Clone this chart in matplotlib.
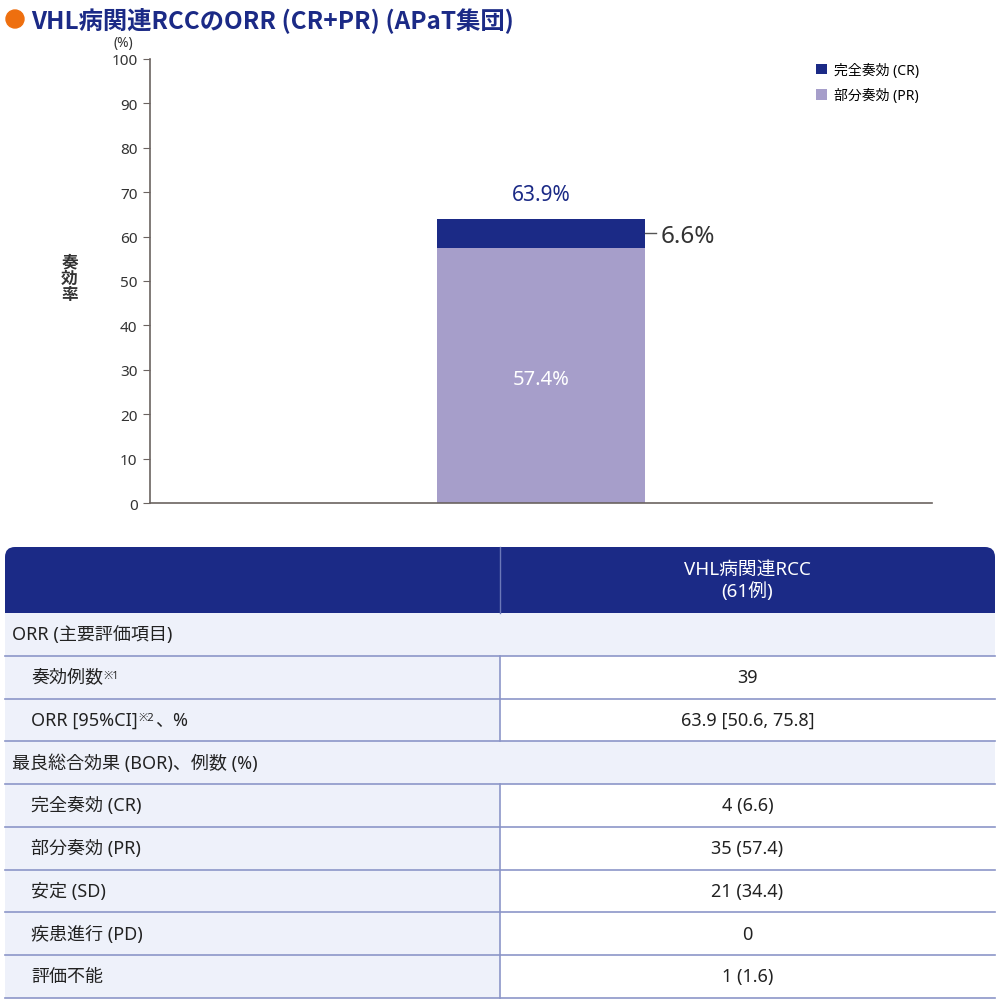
import matplotlib
matplotlib.use('Agg')
import matplotlib.pyplot as plt
from matplotlib.patches import Rectangle, FancyBboxPatch, Circle

plt.rcParams['font.family'] = ['Noto Sans', 'Noto Sans CJK JP', 'DejaVu Sans']

# data
categories = ['VHL病関連RCC']
pr_values = [57.4]
cr_values = [6.6]
orr_values = [63.9]
yticks = list(range(0, 101, 10))

header_label = 'VHL病関連RCC\n(61例)'
row_labels = ['ORR (主要評価項目)', '奏効例数', 'ORR [95%CI]', '最良総合効果 (BOR)、例数 (%)',
              '完全奏効 (CR)', '部分奏効 (PR)', '安定 (SD)', '疾患進行 (PD)', '評価不能']
row_values = ['', '39', '63.9 [50.6, 75.8]', '', '4 (6.6)', '35 (57.4)', '21 (34.4)', '0', '1 (1.6)']
row_kinds = ['section', 'item', 'item', 'section', 'item', 'item', 'item', 'item', 'item']
row_notes = ['', '※1', '※2', '', '', '', '', '', '']

NAVY = '#1b2a86'
LAVENDER = '#a69eca'
LIGHT = '#eef1fa'
LINE = '#8c96c8'
TXT = '#222222'

fig = plt.figure(figsize=(10, 10.03), dpi=100)

# background layer for title and table, pixel coordinates
bg = fig.add_axes([0, 0, 1, 1])
bg.set_xlim(0, 1000)
bg.set_ylim(1003, 0)
bg.axis('off')

bg.add_patch(Circle((15, 20), 9, color='#ee6f0f'))
bg.text(31, 20, 'VHL病関連RCCのORR (CR+PR) (APaT集団)', fontsize=17.5, fontweight='bold',
        color=NAVY, va='center', ha='left', family=['Noto Sans CJK JP', 'DejaVu Sans'])

# table
tx0, tx1, tdiv = 5, 995, 500
head_top, head_h, row_h = 548, 66, 42.75
bg.add_patch(FancyBboxPatch((tx0, head_top), tx1 - tx0, head_h,
                            boxstyle='round,pad=0,rounding_size=10', color=NAVY, lw=0))
bg.add_patch(Rectangle((tx0, head_top + 20), tx1 - tx0, head_h - 20, color=NAVY, lw=0))
bg.plot([tdiv, tdiv], [head_top, head_top + head_h], color='#6c78b8', lw=1)
bg.text((tdiv + tx1) / 2, head_top + head_h / 2, header_label, color='white', fontsize=13.5,
        ha='center', va='center', linespacing=1.25)

y = head_top + head_h
for label, value, kind, note in zip(row_labels, row_values, row_kinds, row_notes):
    if kind == 'section':
        bg.add_patch(Rectangle((tx0, y), tx1 - tx0, row_h, color=LIGHT, lw=0))
        bg.text(12, y + row_h / 2, label, fontsize=13, color=TXT, va='center', ha='left')
    else:
        bg.add_patch(Rectangle((tx0, y), tdiv - tx0, row_h, color=LIGHT, lw=0))
        bg.plot([tdiv, tdiv], [y, y + row_h], color=LINE, lw=1.2)
        t = bg.text(31, y + row_h / 2, label, fontsize=13, color=TXT, va='center', ha='left')
        if note:
            s = bg.annotate(note, xy=(1, 0.92), xycoords=t, fontsize=8, color=TXT,
                            xytext=(0.5, 0), textcoords='offset points', va='top', ha='left')
            if label.startswith('ORR'):
                bg.annotate('、%', xy=(1, 0.5), xycoords=(s, t), fontsize=13, color=TXT,
                            xytext=(1, 0), textcoords='offset points', va='center', ha='left')
        bg.text((tdiv + tx1) / 2, y + row_h / 2, value, fontsize=13, color=TXT,
                va='center', ha='center')
    y += row_h
    bg.plot([tx0, tx1], [y, y], color=LINE, lw=1.2)

# chart
ax = fig.add_axes([0.15, 0.4975, 0.782, 0.4427])
x = range(len(categories))
ax.bar(x, pr_values, width=0.265, color=LAVENDER, label='部分奏効 (PR)')
ax.bar(x, cr_values, bottom=pr_values, width=0.265, color=NAVY, label='完全奏効 (CR)')
ax.set_xlim(-0.5, 0.5)
ax.set_ylim(0, 100)
ax.set_yticks(yticks)
ax.set_xticks([])
for s in ['top', 'right']:
    ax.spines[s].set_visible(False)
for s in ['left', 'bottom']:
    ax.spines[s].set_color('#6b6360')
    ax.spines[s].set_linewidth(1.2)
ax.tick_params(axis='y', length=5, color='#6b6360', labelsize=11, labelcolor='#333333', pad=4)
ax.text(-0.034, 1.02, '(%)', transform=ax.transAxes, fontsize=10, color='#333333',
        ha='center', va='bottom')
ax.text(-0.103, 0.505, '奏\n効\n率', transform=ax.transAxes, fontsize=12, color='#333333',
        ha='center', va='center', linespacing=1.0, fontweight='bold')

for i in x:
    ax.text(i, orr_values[i] + 5.5, f'{orr_values[i]}%', color=NAVY, fontsize=15,
            ha='center', va='center')
    ax.text(i, pr_values[i] / 2 - 0.8, f'{pr_values[i]}%', color='white', fontsize=14.5,
            ha='center', va='center')
    mid = pr_values[i] + cr_values[i] / 2
    ax.plot([i + 0.1325, i + 0.147], [mid, mid], color='#555555', lw=1)
    ax.text(i + 0.153, mid - 0.6, f'{cr_values[i]}%', color='#333333', fontsize=17.5,
            ha='left', va='center')

handles, labels = ax.get_legend_handles_labels()
ax.legend(handles[::-1], labels[::-1], loc='upper right', bbox_to_anchor=(1.0, 1.02),
          frameon=False, fontsize=10, handlelength=0.8, handleheight=0.8,
          handletextpad=0.5, labelspacing=0.75)

fig.savefig('out.png', dpi=100)
